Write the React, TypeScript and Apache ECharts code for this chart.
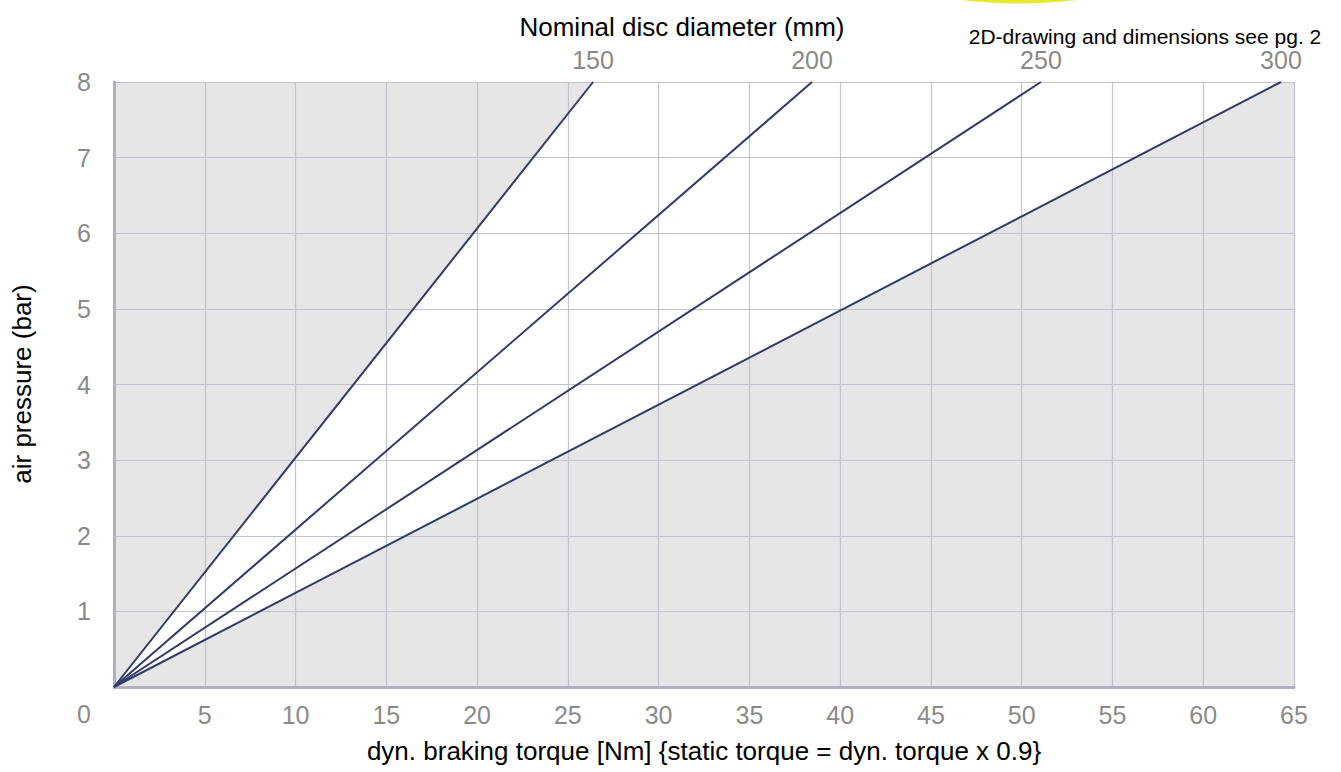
import React, { useEffect, useRef } from "react";
import * as echarts from "echarts";

const diameterLabels = ["150", "200", "250", "300"];
const torqueAtMaxPressure = [26.39, 38.45, 51.06, 64.28];
const maxPressure = 8;
const xMin = 0;
const xMax = 65;
const xInterval = 5;
const yMin = 0;
const yMax = 8;
const yInterval = 1;

const FONT = "Arial, 'Liberation Sans', Helvetica, sans-serif";
const LINE_COLOR = "#2f3c69";
const GRID_COLOR = "#c3c2d2";
const AXIS_COLOR = "#aeadc2";
const LABEL_COLOR = "#8a8a8a";
const TICK_FONT = 25;
const NAME_FONT = 26;

export default function App() {
  const ref = useRef<HTMLDivElement>(null);

  useEffect(() => {
    if (!ref.current) return;
    const chart = echarts.init(ref.current, null, { renderer: "svg" });

    const lineSeries = torqueAtMaxPressure.map((t, i) => ({
      type: "line",
      xAxisIndex: 0,
      yAxisIndex: 0,
      z: 4,
      symbol: "circle",
      symbolSize: 1,
      showSymbol: true,
      itemStyle: { color: "rgba(0,0,0,0)" },
      lineStyle: { color: LINE_COLOR, width: 2 },
      emphasis: { disabled: true },
      data: [
        { value: [0, 0], label: { show: false } },
        {
          value: [t, maxPressure],
          label: {
            show: true,
            position: "top",
            distance: 9,
            formatter: diameterLabels[i],
            color: LABEL_COLOR,
            fontSize: TICK_FONT,
            fontFamily: FONT,
          },
        },
      ],
    }));

    const option: any = {
      animation: false,
      grid: { left: 114, right: 47, top: 82, bottom: 85, containLabel: false },
      xAxis: [
        {
          type: "value",
          position: "bottom",
          min: xMin,
          max: xMax,
          interval: xInterval,
          z: 3,
          axisLine: { show: true, lineStyle: { color: AXIS_COLOR, width: 2.5 } },
          axisTick: { show: false },
          splitLine: { show: true, lineStyle: { color: GRID_COLOR, width: 1.2 } },
          axisLabel: {
            showMinLabel: false,
            margin: 15,
            color: LABEL_COLOR,
            fontSize: TICK_FONT,
            fontFamily: FONT,
          },
        },
        {
          type: "value",
          position: "top",
          min: xMin,
          max: xMax,
          interval: xInterval,
          z: 3,
          axisLine: { show: true, lineStyle: { color: AXIS_COLOR, width: 2.5 } },
          axisTick: { show: false },
          splitLine: { show: false },
          axisLabel: { show: false },
        },
      ],
      yAxis: [
        {
          type: "value",
          position: "left",
          min: yMin,
          max: yMax,
          interval: yInterval,
          z: 3,
          axisLine: { show: true, lineStyle: { color: AXIS_COLOR, width: 2.5 } },
          axisTick: { show: false },
          splitLine: { show: true, lineStyle: { color: GRID_COLOR, width: 1.2 } },
          axisLabel: {
            showMinLabel: false,
            margin: 23,
            color: LABEL_COLOR,
            fontSize: TICK_FONT,
            fontFamily: FONT,
          },
        },
        {
          type: "value",
          position: "right",
          min: yMin,
          max: yMax,
          interval: yInterval,
          z: 3,
          axisLine: { show: true, lineStyle: { color: AXIS_COLOR, width: 2.5 } },
          axisTick: { show: false },
          splitLine: { show: false },
          axisLabel: { show: false },
        },
      ],
      series: [
        {
          type: "custom",
          z: 1,
          silent: true,
          xAxisIndex: 0,
          yAxisIndex: 0,
          encode: { x: [0, 2, 3], y: [1, 4] },
          data: [[0, 0, torqueAtMaxPressure[0], torqueAtMaxPressure[torqueAtMaxPressure.length - 1], maxPressure]],
          renderItem: (params: any, api: any) => {
            const cs = params.coordSys;
            const p0 = api.coord([api.value(0), api.value(1)]);
            const p1 = api.coord([api.value(2), api.value(4)]);
            const p2 = api.coord([api.value(3), api.value(4)]);
            return {
              type: "group",
              children: [
                {
                  type: "rect",
                  shape: { x: cs.x, y: cs.y, width: cs.width, height: cs.height },
                  style: { fill: "#e6e6e6" },
                },
                {
                  type: "polygon",
                  shape: { points: [p0, p1, p2] },
                  style: { fill: "#ffffff" },
                },
              ],
            };
          },
        },
        ...lineSeries,
      ],
      graphic: [
        {
          type: "ellipse",
          shape: { cx: 1019, cy: -40, rx: 145, ry: 43.5 },
          style: { fill: "#e5eb2b" },
          silent: true,
        },
        {
          type: "text",
          x: 84,
          y: 714,
          style: {
            text: "0",
            fill: LABEL_COLOR,
            fontSize: TICK_FONT,
            fontFamily: FONT,
            align: "center",
            verticalAlign: "middle",
          },
        },
        {
          type: "text",
          x: 682,
          y: 27,
          style: {
            text: "Nominal disc diameter (mm)",
            fill: "#000",
            fontSize: NAME_FONT,
            fontFamily: FONT,
            align: "center",
            verticalAlign: "middle",
          },
        },
        {
          type: "text",
          x: 1145,
          y: 36,
          style: {
            text: "2D-drawing and dimensions see pg. 2",
            fill: "#000",
            fontSize: 21,
            fontFamily: FONT,
            align: "center",
            verticalAlign: "middle",
          },
        },
        {
          type: "text",
          x: 704,
          y: 751,
          style: {
            text: "dyn. braking torque [Nm] {static torque = dyn. torque x 0.9}",
            fill: "#000",
            fontSize: NAME_FONT,
            fontFamily: FONT,
            align: "center",
            verticalAlign: "middle",
          },
        },
        {
          type: "text",
          x: 22,
          y: 384,
          rotation: Math.PI / 2,
          style: {
            text: "air pressure (bar)",
            fill: "#000",
            fontSize: NAME_FONT,
            fontFamily: FONT,
            align: "center",
            verticalAlign: "middle",
          },
        },
      ],
    };

    chart.setOption(option);
    return () => chart.dispose();
  }, []);

  return (
    <div
      ref={ref}
      style={{ position: "absolute", left: 0, top: 0, width: 1341, height: 772 }}
    />
  );
}
